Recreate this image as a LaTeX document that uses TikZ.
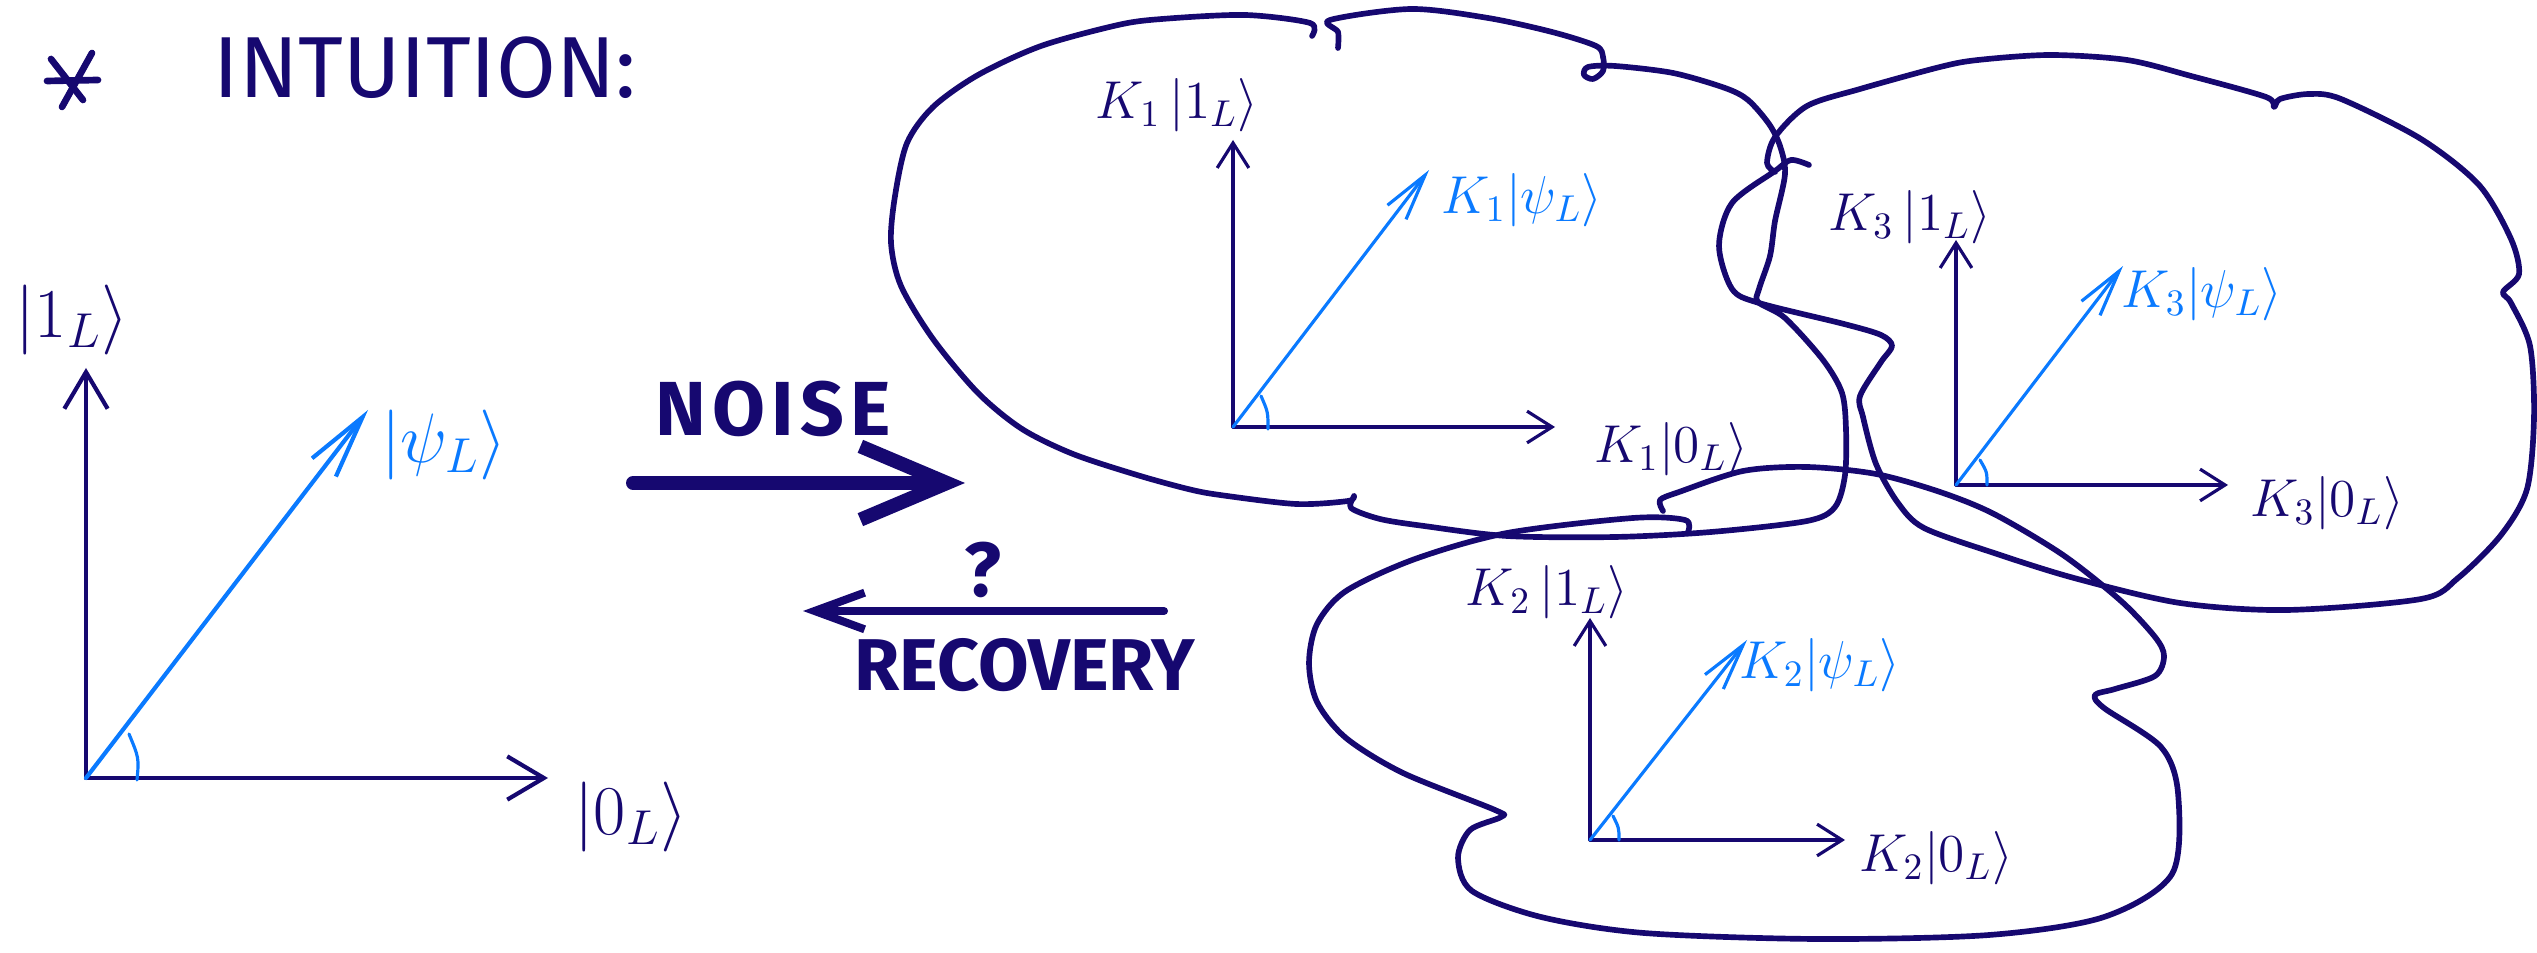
\documentclass[tikz,border=0pt]{standalone}
\usepackage{fix-cm}
\usepackage{fontspec}
\usetikzlibrary{arrows.meta}
\newfontfamily\handfont{Fira Sans}
\newfontfamily\handfontsp[LetterSpace=8]{Fira Sans}
\definecolor{navy}{RGB}{22,8,112}
\definecolor{qblue}{RGB}{10,122,255}
\tikzset{
  cloudline/.style={draw=navy, line width=1.7pt},
  bigax/.style={draw=navy, line width=1.25pt, -{Straight Barb[length=11pt,width=13pt]}},
  bigvec/.style={draw=qblue, line width=1.25pt, -{Straight Barb[length=19pt,width=9pt]}},
  smax/.style={draw=navy, line width=0.95pt, -{Straight Barb[length=7.5pt,width=9.5pt]}},
  smvec/.style={draw=qblue, line width=0.95pt, -{Straight Barb[length=14pt,width=7pt]}},
  anglemark/.style={draw=qblue, line width=0.95pt},
  biglbl/.style={inner sep=0pt, text=navy, font=\fontsize{21}{21}\selectfont},
  smlbl/.style={inner sep=0pt, text=navy, font=\fontsize{16}{16}\selectfont},
  boldword/.style={inner sep=0pt, text=navy, font=\handfontsp\bfseries\fontsize{23}{23}\selectfont},
  titlestroke/.style={draw=navy, line width=2pt}
}
\begin{document}
\begin{tikzpicture}[x=0.3pt,y=-0.3pt,line cap=round,line join=round]
\useasboundingbox (0,0) rectangle (2537,953);

% ---------- title ----------
\draw[titlestroke] (51,59) -- (83,100);
\draw[titlestroke] (92,53) -- (62,107);
\draw[titlestroke] (47,81) -- (98,80);
\node[inner sep=0pt, text=navy, font=\handfont\fontsize{26}{26}\selectfont] (title) at (425,68) {INTUITION:};

% ---------- left diagram ----------
\coordinate (O0) at (86,778);
\coordinate (Y0) at (86,368);
\coordinate (X0) at (548,778);
\coordinate (P0) at (368,410);
\draw[bigax] (O0) -- (Y0);
\draw[bigax] (O0) -- (X0);
\draw[bigvec] (O0) -- (P0);
\draw[anglemark] (137,780) .. controls (139,758) .. (129,734);
\node[biglbl] (one0) at (72,320) {$|1_L\rangle$};
\node[biglbl, text=qblue] (psi0) at (444,445) {$|\psi_L\rangle$};
\node[biglbl] (zero0) at (631,817) {$|0_L\rangle$};

% ---------- noise / recovery arrows ----------
\coordinate (noiseS) at (633,483);
\coordinate (noiseE) at (965,483);
\draw[draw=navy, line width=4.2pt, -{Straight Barb[length=26pt,width=22pt]}] (noiseS) -- (noiseE);
\node[boldword] (noise) at (773,409) {NOISE};
\coordinate (recS) at (1164,611);
\coordinate (recE) at (803,611);
\draw[draw=navy, line width=2.4pt, -{Straight Barb[length=15pt,width=11pt]}] (recS) -- (recE);
\node[boldword] (qm) at (983,570) {?};
\node[boldword, font=\handfont\bfseries\fontsize{22}{22}\selectfont] (recovery) at (1025,665) {RECOVERY};

% ---------- clouds ----------
\draw[cloudline] plot[smooth, tension=0.5] coordinates {
 (1312,36) (1310,23) (1245,15) (1162,19) (1118,25) (1041,46) (978,75) (933,107)
 (907,143) (895,196) (891,243) (901,286) (933,339) (978,393) (1022,429) (1073,454)
 (1137,475) (1188,489) (1220,495) (1296,504) (1348,501) (1354,496) (1351,508)
 (1380,519) (1424,526) (1507,536) (1615,537) (1711,532) (1807,521) (1835,507)
 (1845,475) (1846,430) (1842,393) (1823,360) (1785,318) (1758,302) (1759,289)
 (1770,256) (1775,221) (1785,174) (1780,146) (1769,124) (1748,100) (1725,88)
 (1673,73) (1615,66) (1588,67) (1584,75) (1593,79) (1603,71) (1603,57) (1596,46)
 (1552,32) (1488,18) (1411,9) (1330,20) (1338,32) (1338,48)};

\draw[cloudline] plot[smooth, tension=0.5] coordinates {
 (1663,511) (1660,500) (1679,492) (1743,471) (1807,467) (1876,474) (1940,492)
 (1994,514) (2063,555) (2121,601) (2155,637) (2164,656) (2155,676) (2115,689)
 (2095,695) (2104,708) (2161,747) (2178,793) (2172,874) (2104,917) (1989,935)
 (1817,939) (1644,933) (1541,917) (1472,891) (1458,858) (1470,830) (1501,817)
 (1495,810) (1403,773) (1346,738) (1317,702) (1309,663) (1317,624) (1346,591)
 (1415,559) (1507,533) (1633,518) (1685,520) (1688,532)};

\draw[cloudline] plot[smooth, tension=0.5] coordinates {
 (1809,165) (1791,160) (1775,171) (1732,203) (1719,246) (1732,289) (1759,303)
 (1844,324) (1881,335) (1892,346) (1881,362) (1860,396) (1863,417) (1876,464)
 (1898,503) (1924,528) (1994,553) (2074,578) (2180,603) (2287,610) (2421,599)
 (2458,578) (2501,535) (2527,489) (2534,417) (2530,346) (2511,303) (2503,292)
 (2519,274) (2511,239) (2479,185) (2421,139) (2341,99) (2309,94) (2280,99)
 (2274,107) (2266,97) (2191,76) (2127,60) (2050,55) (1978,60) (1940,67) (1860,89)
 (1807,106) (1775,137) (1767,163) (1775,172)};

% ---------- K1 ----------
\coordinate (O1) at (1233,427);
\coordinate (Y1) at (1233,140);
\coordinate (X1) at (1555,427);
\coordinate (P1) at (1429,170);
\draw[smax] (O1) -- (Y1);
\draw[smax] (O1) -- (X1);
\draw[smvec] (O1) -- (P1);
\draw[anglemark] (1268,429) .. controls (1268,412) .. (1261,396);
\node[smlbl] (one1) at (1177,105) {$K_1\,|1_L\rangle$};
\node[smlbl, text=qblue] (psi1) at (1522,200) {$K_1|\psi_L\rangle$};
\node[smlbl] (zero1) at (1671,449) {$K_1|0_L\rangle$};

% ---------- K2 ----------
\coordinate (O2) at (1590,840);
\coordinate (Y2) at (1590,618);
\coordinate (X2) at (1845,840);
\coordinate (P2) at (1747,640);
\draw[smax] (O2) -- (Y2);
\draw[smax] (O2) -- (X2);
\draw[smvec] (O2) -- (P2);
\draw[anglemark] (1619,840) .. controls (1619,828) .. (1613,816);
\node[smlbl] (one2) at (1547,592) {$K_2\,|1_L\rangle$};
\node[smlbl, text=qblue] (psi2) at (1820,665) {$K_2|\psi_L\rangle$};
\node[smlbl] (zero2) at (1936,858) {$K_2|0_L\rangle$};

% ---------- K3 ----------
\coordinate (O3) at (1956,485);
\coordinate (Y3) at (1956,240);
\coordinate (X3) at (2228,485);
\coordinate (P3) at (2123,266);
\draw[smax] (O3) -- (Y3);
\draw[smax] (O3) -- (X3);
\draw[smvec] (O3) -- (P3);
\draw[anglemark] (1987,485) .. controls (1987,472) .. (1980,460);
\node[smlbl] (one3) at (1910,217) {$K_3\,|1_L\rangle$};
\node[smlbl, text=qblue] (psi3) at (2202,294) {$K_3|\psi_L\rangle$};
\node[smlbl] (zero3) at (2327,503) {$K_3|0_L\rangle$};
\end{tikzpicture}
\end{document}
